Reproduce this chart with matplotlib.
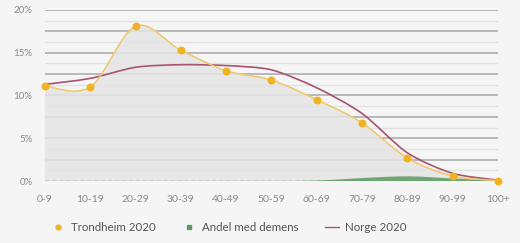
import numpy as np
import matplotlib.pyplot as plt
from matplotlib.path import Path
from matplotlib.patches import PathPatch
from matplotlib.lines import Line2D

plt.rcParams['font.family'] = ['Lato', 'DejaVu Sans']

aldersgrupper = ['0-9', '10-19', '20-29', '30-39', '40-49', '50-59',
                 '60-69', '70-79', '80-89', '90-99', '100+']
trondheim = [11.1, 11.0, 18.1, 15.3, 12.9, 11.8, 9.5, 6.8, 2.7, 0.6, 0.05]
norge = [11.3, 12.0, 13.3, 13.6, 13.5, 13.0, 10.9, 7.9, 3.3, 0.9, 0.1]
demens = [0.0, 0.0, 0.0, 0.0, 0.0, 0.0, 0.05, 0.35, 0.55, 0.3, 0.05]

GUL = '#efb323'
GUL_LINJE = '#f2c76a'
ROD = '#a85370'
GRONN = '#5c9a5e'


def bezier_path(x, y, tension=1.0, close_to=None):
    # catmull-rom -> cubic bezier, drawn by matplotlib
    x = np.asarray(x, float)
    y = np.asarray(y, float)
    verts = [(x[0], y[0])]
    codes = [Path.MOVETO]
    n = len(x)
    for i in range(n - 1):
        x0, y0 = (x[i - 1], y[i - 1]) if i > 0 else (x[i], y[i])
        x3, y3 = (x[i + 2], y[i + 2]) if i + 2 < n else (x[i + 1], y[i + 1])
        c1 = (x[i] + (x[i + 1] - x0) / 6 * tension, y[i] + (y[i + 1] - y0) / 6 * tension)
        c2 = (x[i + 1] - (x3 - x[i]) / 6 * tension, y[i + 1] - (y3 - y[i]) / 6 * tension)
        verts += [c1, c2, (x[i + 1], y[i + 1])]
        codes += [Path.CURVE4] * 3
    if close_to is not None:
        verts += [(x[-1], close_to), (x[0], close_to), (x[0], y[0])]
        codes += [Path.LINETO, Path.LINETO, Path.CLOSEPOLY]
    return Path(verts, codes)


xs = np.arange(len(aldersgrupper))

fig = plt.figure(figsize=(5.2, 2.43), dpi=100)
fig.patch.set_facecolor('#f5f5f5')
ax = fig.add_axes([0.0865, 0.255, 0.871, 0.704])
ax.set_facecolor('#f5f5f5')
ax.set_xlim(0, 10)
ax.set_ylim(0, 20)

for v in np.arange(0, 20.01, 1.25):
    dark = abs(v / 2.5 - round(v / 2.5)) < 1e-6
    ax.axhline(v, color='#b4b4b4' if dark else '#e2e2e2',
               lw=1.3 if dark else 1.0, zorder=1)

ax.add_patch(PathPatch(bezier_path(xs, trondheim, close_to=0), fc='#e5e5e5',
                       ec='none', alpha=0.85, zorder=2))
ax.add_patch(PathPatch(bezier_path(xs, demens, close_to=0), fc=GRONN,
                       ec='none', alpha=0.85, zorder=3))
ax.axhline(0, color=GRONN, lw=1, ls=(0, (3, 2)), zorder=3)

ax.add_patch(PathPatch(bezier_path(xs, norge, tension=0.8), fc='none', ec=ROD,
                       lw=1.2, zorder=4))
ax.add_patch(PathPatch(bezier_path(xs, trondheim), fc='none', ec=GUL_LINJE,
                       lw=1.1, zorder=5))
ax.scatter(xs, trondheim, s=22, color=GUL, zorder=6, clip_on=False)

ax.set_xticks(xs)
ax.set_xticklabels(aldersgrupper)
ax.set_yticks([0, 5, 10, 15, 20])
ax.set_yticklabels(['0%', '5%', '10%', '15%', '20%'])
ax.tick_params(axis='x', length=0, pad=10, labelsize=7.5, labelcolor='#8a8a8a')
ax.tick_params(axis='y', length=0, pad=9, labelsize=7, labelcolor='#8a8a8a')
for s in ax.spines.values():
    s.set_visible(False)

handles = [
    Line2D([], [], ls='none', marker='o', ms=3.5, color=GUL),
    Line2D([], [], ls='none', marker='s', ms=3.5, color=GRONN),
    Line2D([], [], color=ROD, lw=1.0),
]
leg = fig.legend(handles, ['Trondheim 2020', 'Andel med demens', 'Norge 2020'],
                 loc='center', bbox_to_anchor=(0.44, 0.065), ncol=3, frameon=False,
                 fontsize=8.3, handlelength=1.2, handletextpad=0.5, columnspacing=2.3)
for t in leg.get_texts():
    t.set_color('#555555')

fig.savefig('out.png', dpi=100, facecolor=fig.get_facecolor())
